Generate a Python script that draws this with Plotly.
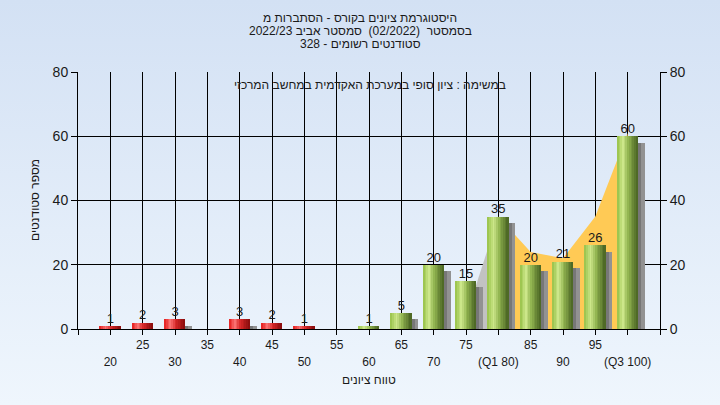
import base64
import plotly.graph_objects as go

# ---------------- data ----------------
categories = [20, 25, 30, 35, 40, 45, 50, 55, 60, 65, 70, 75, 80, 85, 90, 95, 100]
tick_labels = ["20", "25", "30", "35", "40", "45", "50", "55", "60", "65", "70",
               "75", "(Q1 80)", "85", "90", "95", "(Q3 100)"]
counts = [1, 2, 3, 0, 3, 2, 1, 0, 1, 5, 20, 15, 35, 20, 21, 26, 60]
pass_mark = 60

# background area (quartile band)
area_grey_x = [75, 80]
area_grey_y = [4, 35]
area_band_x = [80, 85, 90, 95, 100]
area_band_y = [35, 24, 22, 35, 61]

title_lines = ["היסטוגרמת ציונים בקורס - הסתברות מ",
               "בסמסטר  (02/2022)  סמסטר אביב 2022/23",
               "סטודנטים רשומים - 328"]
subtitle = "במשימה : ציון סופי במערכת האקדמית במחשב המרכזי"
x_title = "טווח ציונים"
y_title = "מספר סטודנטים"

FONT = "Liberation Sans, Arial, sans-serif"
TXT = "#1a1a1a"

# plot-area geometry in pixels
L, R, T, B = 78, 660, 72, 329
PW, PH = R - L, B - T

def px_x(p):
    return (p - L) / PW

def px_y(p):
    return (B - p) / PH

# ---------------- helpers ----------------
def interp(stops, t):
    for (t0, c0), (t1, c1) in zip(stops, stops[1:]):
        if t0 <= t <= t1:
            f = (t - t0) / (t1 - t0) if t1 > t0 else 0
            c = [round(a + (b - a) * f) for a, b in zip(c0, c1)]
            return "rgb(%d,%d,%d)" % tuple(c)
    c = stops[-1][1]
    return "rgb(%d,%d,%d)" % tuple(c)

green_stops = [(0, (150, 192, 72)), (0.3, (206, 232, 140)), (0.55, (145, 180, 80)), (1, (72, 98, 34))]
red_stops = [(0, (228, 28, 28)), (0.3, (250, 115, 115)), (0.55, (215, 40, 40)), (1, (135, 12, 12))]
shadow_stops = [(0, (70, 70, 70)), (0.6, (95, 95, 95)), (1, (160, 160, 160))]

fig = go.Figure()

svg = ('<svg xmlns="http://www.w3.org/2000/svg" width="720" height="405" preserveAspectRatio="none">'
       '<defs><linearGradient id="g" x1="0" y1="0" x2="0" y2="1">'
       '<stop offset="0" stop-color="#d3e1f4"/><stop offset="1" stop-color="#eff6fd"/>'
       '</linearGradient></defs><rect width="720" height="405" fill="url(#g)"/></svg>')
uri = "data:image/svg+xml;base64," + base64.b64encode(svg.encode()).decode()

# area band on base axes (drawn beneath the bars on the overlay axes)
fig.add_trace(go.Scatter(x=area_grey_x, y=area_grey_y, fill="tozeroy", mode="lines",
                         line=dict(width=0), fillcolor="#c2c2c2", hoverinfo="skip", showlegend=False))
fig.add_trace(go.Scatter(x=area_band_x, y=area_band_y, fill="tozeroy", mode="lines",
                         line=dict(width=0), fillcolor="#ffca55", hoverinfo="skip", showlegend=False))

BW = 3.2
# soft shadow: slices fading to the right
NS = 6
SH_W = BW
ss = SH_W / NS
for i in range(NS):
    t = (i + 0.5) / NS
    fig.add_trace(go.Bar(x=categories, y=counts, base=-2.0, width=ss * 1.03,
                         offset=-BW / 2 + 1.0 + i * ss,
                         xaxis="x2", yaxis="y2",
                         marker=dict(color=interp(shadow_stops, t), line=dict(width=0)),
                         hoverinfo="skip", showlegend=False))
N = 12
sw = BW / N
for i in range(N):
    t = (i + 0.5) / N
    cols = [interp(green_stops, t) if c >= pass_mark else interp(red_stops, t) for c in categories]
    fig.add_trace(go.Bar(x=categories, y=counts, width=sw * 1.03, offset=-BW / 2 + i * sw,
                         xaxis="x2", yaxis="y2",
                         marker=dict(color=cols, line=dict(width=0)),
                         hoverinfo="skip", showlegend=False))

fig.add_trace(go.Scatter(x=categories, y=counts, mode="text", xaxis="x2", yaxis="y2",
                         text=[str(v) if v > 0 else "" for v in counts],
                         textposition="top center",
                         textfont=dict(family=FONT, size=13, color=TXT),
                         hoverinfo="skip", showlegend=False))

upper_vals = [c for k, c in enumerate(categories) if k % 2 == 1]
upper_text = [t for k, t in enumerate(tick_labels) if k % 2 == 1]
lower_vals = [c for k, c in enumerate(categories) if k % 2 == 0]
lower_text = [t for k, t in enumerate(tick_labels) if k % 2 == 0]
all_ticks = [15] + categories + [105]

title_ann = [dict(text=line, xref="paper", yref="paper", x=px_x(360), y=px_y(yc),
                  xanchor="center", yanchor="middle", showarrow=False,
                  font=dict(family=FONT, size=12, color=TXT))
             for line, yc in zip(title_lines, [18, 31, 44])]

fig.update_layout(
    width=720, height=405,
    margin=dict(l=L, r=720 - R, t=T, b=405 - B),
    paper_bgcolor="#e2ecf8",
    plot_bgcolor="#b3b3b3",
    barmode="overlay",
    bargap=0,
    font=dict(family=FONT, color=TXT),
    images=[dict(source=uri, xref="paper", yref="paper", x=-L / PW, y=1 + T / PH,
                 sizex=720 / PW, sizey=405 / PH, sizing="stretch", xanchor="left",
                 yanchor="top", layer="below")],
    xaxis=dict(range=[15, 105], tickmode="array", tickvals=all_ticks,
               ticktext=["" if v not in upper_vals else upper_text[upper_vals.index(v)] for v in all_ticks],
               ticks="outside", ticklen=5, tickcolor="black", showgrid=True, gridcolor="black",
               gridwidth=1, showline=True, linecolor="black", linewidth=1, zeroline=False,
               tickfont=dict(family=FONT, size=12, color=TXT), fixedrange=True),
    xaxis2=dict(range=[15, 105], overlaying="x", side="bottom", tickmode="array",
                tickvals=lower_vals, ticktext=lower_text, ticks="", showgrid=False,
                showline=False, zeroline=False, ticklabelstandoff=24,
                tickfont=dict(family=FONT, size=12, color=TXT), fixedrange=True),
    yaxis=dict(range=[0, 80], dtick=20, ticks="outside", ticklen=6, tickcolor="black",
               showgrid=True, gridcolor="black", gridwidth=1, showline=True, linecolor="black",
               linewidth=1, zeroline=False, tickfont=dict(family=FONT, size=14, color=TXT),
               fixedrange=True),
    yaxis2=dict(range=[0, 80], dtick=20, overlaying="y", side="right", ticks="outside",
                ticklen=6, tickcolor="black", showgrid=False, showline=True, linecolor="black",
                linewidth=1, zeroline=False, tickfont=dict(family=FONT, size=14, color=TXT),
                fixedrange=True),
    annotations=title_ann + [
        dict(text=subtitle, xref="paper", yref="paper", x=px_x(370), y=px_y(85),
             xanchor="center", yanchor="middle",
             showarrow=False, font=dict(family=FONT, size=12, color=TXT)),
        dict(text=x_title, xref="paper", yref="paper", x=px_x(369), y=px_y(380),
             xanchor="center", yanchor="middle", showarrow=False,
             font=dict(family=FONT, size=12, color=TXT)),
        dict(text=y_title, xref="paper", yref="paper", x=px_x(35), y=px_y(200),
             xanchor="center", yanchor="middle",
             textangle=-90, showarrow=False, font=dict(family=FONT, size=12, color=TXT)),
    ],
)

fig.write_html("out.html", config={"displayModeBar": False},
               post_script="document.body.style.margin='0';")
